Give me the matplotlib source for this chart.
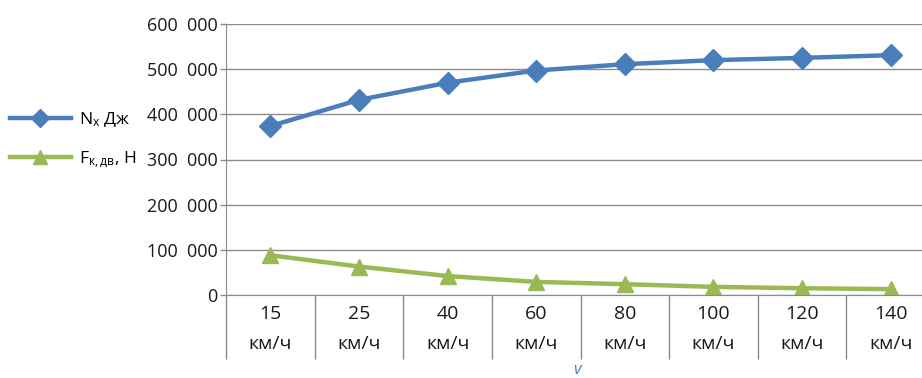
import numpy as np
import matplotlib.pyplot as plt
from matplotlib.ticker import FuncFormatter

plt.rcParams['font.family'] = ['Open Sans', 'DejaVu Sans']
plt.rcParams['mathtext.fontset'] = 'custom'
plt.rcParams['mathtext.rm'] = 'Open Sans'
plt.rcParams['mathtext.it'] = 'Open Sans'

speeds = ['15', '25', '40', '60', '80', '100', '120', '140']
work_nx = [374000, 432000, 470000, 497000, 511000, 520000, 525000, 531000]
force_fk = [88000, 63000, 42000, 29000, 24000, 18000, 15000, 13000]

blue = '#4a7ebb'
green = '#98b954'
grid_gray = '#8c8c8c'
text_col = '#1a1a1a'

fig = plt.figure(figsize=(9.22, 3.78), dpi=100)
W, H = 922, 378
left, right, top, bottom = 226, 935, 24, 295
ax = fig.add_axes([left / W, 1 - bottom / H, (right - left) / W, (bottom - top) / H])

x = np.arange(len(speeds))
ax.plot(x, work_nx, color=blue, lw=3.2, marker='D', ms=11,
        label=r'N$_{\mathrm{x}}$ Дж')
ax.plot(x, force_fk, color=green, lw=3.2, marker='^', ms=12,
        label=r'F$_{\mathrm{к,дв}}$, Н')

ax.set_xlim(-0.5, len(speeds) - 0.5)
ax.set_ylim(0, 600000)
ax.set_yticks(np.arange(0, 600001, 100000))
ax.yaxis.set_major_formatter(FuncFormatter(lambda v, p: f'{int(v):,}'.replace(',', '  ')))
ax.yaxis.grid(True, color=grid_gray, lw=1)
ax.set_axisbelow(True)

ax.set_xticks(x)
ax.set_xticklabels([s + '\nкм/ч' for s in speeds], linespacing=1.9)
ax.set_xticks(np.arange(-0.5, len(speeds)), minor=True)
ax.tick_params(axis='x', which='major', length=0, pad=7, labelsize=14, colors=text_col)
ax.tick_params(axis='x', which='minor', length=46, color=grid_gray, width=1)
ax.tick_params(axis='y', length=4, width=1, color=grid_gray, pad=2, labelsize=13,
               labelcolor=text_col)

for side in ['top', 'right']:
    ax.spines[side].set_visible(False)
ax.spines['left'].set_color(grid_gray)
ax.spines['bottom'].set_color(grid_gray)

fig.legend(loc='center left', bbox_to_anchor=(10 / W, 1 - 140 / H), frameon=False,
           fontsize=12.5, handlelength=3.5, handletextpad=0.45, labelspacing=1.15,
           borderpad=0, borderaxespad=0, markerscale=0.85)

fig.text(577 / W, 1 - 370 / H, 'v', color=blue, fontsize=12, style='italic',
         ha='center', va='center')

fig.savefig('out.png', dpi=100)
